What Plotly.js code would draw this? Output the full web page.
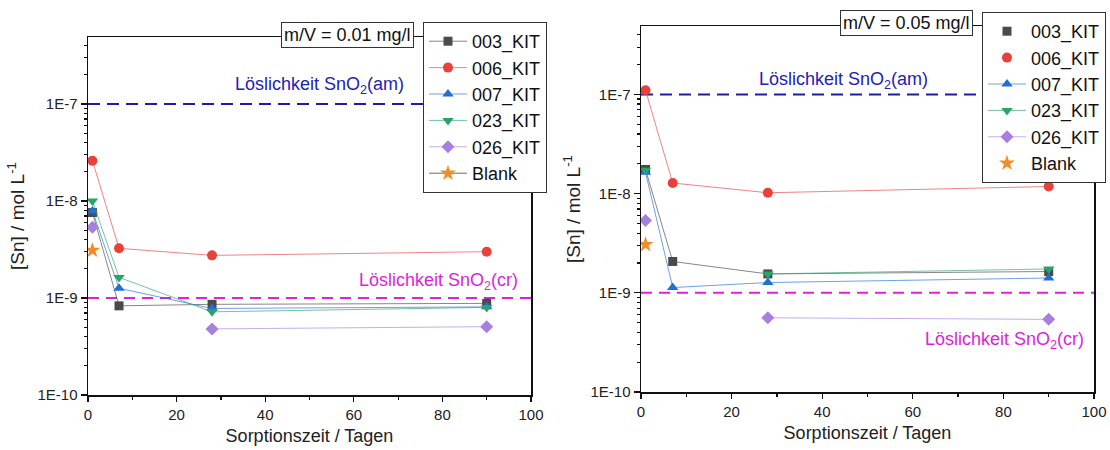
<!DOCTYPE html>
<html><head><meta charset="utf-8">
<script src="https://cdn.plot.ly/plotly-3.0.1.min.js"></script>
<style>html,body{margin:0;padding:0;background:#fff}#chart{width:1110px;height:450px}</style>
</head><body><div id="chart"></div>
<script>
// ---------- data ----------
const days = [1, 7, 28, 90];
const blankDays = [1];
const seriesNames = ['003_KIT', '006_KIT', '007_KIT', '023_KIT', '026_KIT', 'Blank'];

// m/V = 0.01 mg/l
const left003 = [7.6e-9, 8.3e-10, 8.6e-10, 8.8e-10];
const left006 = [2.6e-8, 3.25e-9, 2.75e-9, 3.0e-9];
const left007 = [7.9e-9, 1.26e-9, 7.8e-10, 8.1e-10];
const left023 = [1.0e-8, 1.63e-9, 7.2e-10, 8.0e-10];
const left026 = [5.35e-9, null, 4.8e-10, 5.06e-10];
const leftBlank = [3.1e-9];

// m/V = 0.05 mg/l
const right003 = [1.75e-8, 2.07e-9, 1.55e-9, 1.64e-9];
const right006 = [1.1e-7, 1.28e-8, 1.02e-8, 1.18e-8];
const right007 = [1.64e-8, 1.13e-9, 1.27e-9, 1.41e-9];
const right023 = [1.72e-8, null, 1.55e-9, 1.74e-9];
const right026 = [5.35e-9, null, 5.6e-10, 5.4e-10];
const rightBlank = [3.06e-9];

const solubilityAm = 1e-7;
const solubilityCr = 1e-9;
const solLineX = [0, 100];

const xTickVals = [0, 20, 40, 60, 80, 100];
const yTickVals = [1e-10, 1e-9, 1e-8, 1e-7];
const yTickText = ['1E-10', '1E-9', '1E-8', '1E-7'];
const panelLabels = ['m/V = 0.01 mg/l', 'm/V = 0.05 mg/l'];
const labelAm = 'Löslichkeit SnO<sub>2</sub>(am)';
const labelCr = 'Löslichkeit SnO<sub>2</sub>(cr)';
const xTitle = 'Sorptionszeit / Tagen';
const yTitle = '[Sn] / mol L<sup>-1</sup>';

// ---------- styles ----------
const FONT = 'Arial, "Liberation Sans", sans-serif';
const styles = {
  '003_KIT': {color: '#4a4a4a', line: 'rgba(70,70,70,0.65)', symbol: 'square', size: 9},
  '006_KIT': {color: '#e8413c', line: 'rgba(232,65,60,0.65)', symbol: 'circle', size: 10},
  '007_KIT': {color: '#1f6fd6', line: 'rgba(31,111,214,0.65)', symbol: 'triangle-up', size: 10},
  '023_KIT': {color: '#2aa36b', line: 'rgba(42,163,107,0.65)', symbol: 'triangle-down', size: 10},
  '026_KIT': {color: '#a77fe0', line: 'rgba(167,127,224,0.65)', symbol: 'diamond', size: 10},
  'Blank':   {color: '#f28c28', line: 'rgba(80,80,80,0.85)', symbol: 'star', size: 12}
};

const traces = [];
function addSeries(xs, ys, name, xa, ya, legendId, withLine) {
  const s = styles[name];
  const marker = {color: s.color, symbol: s.symbol, size: s.size, line: {width: 0}};
  if (withLine) {
    traces.push({x: xs, y: ys, name: name, xaxis: xa, yaxis: ya, legend: legendId,
      mode: 'lines+markers', line: {color: s.line, width: 1}, marker: marker});
  } else {
    if (xs.length > 1) {
      traces.push({x: xs, y: ys, xaxis: xa, yaxis: ya, mode: 'lines', showlegend: false,
        line: {color: s.line, width: 1}, hoverinfo: 'skip'});
    }
    traces.push({x: xs, y: ys, name: name, xaxis: xa, yaxis: ya, legend: legendId,
      mode: 'markers', marker: marker});
  }
}
function addSolLines(xa, ya) {
  traces.push({x: solLineX, y: [solubilityAm, solubilityAm], xaxis: xa, yaxis: ya, mode: 'lines',
    showlegend: false, hoverinfo: 'skip', line: {color: '#1c1ca6', width: 2, dash: '12px,7px'}});
  traces.push({x: solLineX, y: [solubilityCr, solubilityCr], xaxis: xa, yaxis: ya, mode: 'lines',
    showlegend: false, hoverinfo: 'skip', line: {color: '#e020dc', width: 2, dash: '11px,7px'}});
}

addSolLines('x', 'y');
addSolLines('x2', 'y2');

const leftData = [left003, left006, left007, left023, left026];
const rightData = [right003, right006, right007, right023, right026];
seriesNames.slice(0, 5).forEach((n, i) => addSeries(days, leftData[i], n, 'x', 'y', 'legend', true));
addSeries(blankDays, leftBlank, 'Blank', 'x', 'y', 'legend', true);
const rightWithLine = {'003_KIT': false, '006_KIT': false, '007_KIT': true, '023_KIT': true, '026_KIT': true};
seriesNames.slice(0, 5).forEach((n, i) => addSeries(days, rightData[i], n, 'x2', 'y2', 'legend2', rightWithLine[n]));
addSeries(blankDays, rightBlank, 'Blank', 'x2', 'y2', 'legend2', false);

// ---------- layout ----------
const W = 1110, H = 450;
const minorY = [];
for (let d = -10; d < -6; d++) for (let k = 2; k <= 9; k++) minorY.push(k * Math.pow(10, d));

function xAxis(domain, anchor) {
  return {domain: domain, anchor: anchor, range: [0, 100], tickmode: 'array', tickvals: xTickVals,
    ticks: 'outside', ticklen: 5, tickwidth: 1.2, tickcolor: '#111',
    minor: {tickmode: 'linear', tick0: 0, dtick: 10, ticks: 'outside', ticklen: 3, tickcolor: '#111'},
    showline: true, linecolor: '#111', linewidth: 1.5, mirror: true,
    showgrid: false, zeroline: false, automargin: false,
    tickfont: {family: FONT, size: 15, color: '#222'},
    title: {text: xTitle, font: {family: FONT, size: 18, color: '#222'}, standoff: 8}};
}
function yAxis(domain, anchor, standoff) {
  return {domain: domain, anchor: anchor, type: 'log', range: [-10, -6.31],
    tickmode: 'array', tickvals: yTickVals, ticktext: yTickText,
    ticks: 'outside', ticklen: 6, tickwidth: 1.2, tickcolor: '#111',
    minor: {tickmode: 'array', tickvals: minorY, ticks: 'outside', ticklen: 3, tickcolor: '#111'},
    showline: true, linecolor: '#111', linewidth: 1.5, mirror: true,
    showgrid: false, zeroline: false, automargin: false,
    tickfont: {family: FONT, size: 15, color: '#222'},
    title: {text: yTitle, font: {family: FONT, size: 19, color: '#222'}, standoff: standoff}};
}
// inward ticks on the top / right frame
function xMirror(over, anchor) {
  return {overlaying: over, anchor: anchor, side: 'top', range: [0, 100], tickmode: 'array', tickvals: xTickVals,
    ticks: 'inside', ticklen: 5, tickcolor: '#111', showticklabels: false,
    minor: {tickmode: 'linear', tick0: 0, dtick: 10, ticks: 'inside', ticklen: 3, tickcolor: '#111'},
    showline: false, showgrid: false, zeroline: false, automargin: false};
}
function yMirror(over, anchor) {
  return {overlaying: over, anchor: anchor, side: 'right', type: 'log', range: [-10, -6.31],
    tickmode: 'array', tickvals: yTickVals, ticks: 'inside', ticklen: 6, tickcolor: '#111', showticklabels: false,
    minor: {tickmode: 'array', tickvals: minorY, ticks: 'inside', ticklen: 3, tickcolor: '#111'},
    showline: false, showgrid: false, zeroline: false, automargin: false};
}

function boxAnn(text, cx, cy) {
  return {text: text, xref: 'paper', yref: 'paper', x: cx / W, y: 1 - cy / H,
    xanchor: 'center', yanchor: 'middle', showarrow: false,
    font: {family: FONT, size: 18, color: '#111'},
    bgcolor: '#fff', bordercolor: '#333', borderwidth: 1, borderpad: 2};
}
function textAnn(text, cx, cy, color) {
  return {text: text, xref: 'paper', yref: 'paper', x: cx / W, y: 1 - cy / H,
    xanchor: 'center', yanchor: 'middle', showarrow: false,
    font: {family: FONT, size: 18, color: color}};
}

const legendBase = {xanchor: 'left', yanchor: 'top', bgcolor: '#fff', bordercolor: '#333', borderwidth: 1,
  font: {family: FONT, size: 18, color: '#111'}, tracegroupgap: 0, itemwidth: 38};

const layout = {
  width: W, height: H,
  margin: {l: 0, r: 0, t: 0, b: 0},
  paper_bgcolor: '#fff', plot_bgcolor: '#fff',
  font: {family: FONT, color: '#111'},
  xaxis: xAxis([88 / W, 531 / W], 'y'),
  yaxis: yAxis([1 - 395 / H, 1 - 37 / H], 'x', 8),
  xaxis2: xAxis([641 / W, 1094 / W], 'y2'),
  yaxis2: yAxis([1 - 392 / H, 1 - 26 / H], 'x2', 5),
  xaxis3: xMirror('x', 'y'),
  yaxis3: yMirror('y', 'x'),
  xaxis4: xMirror('x2', 'y2'),
  yaxis4: yMirror('y2', 'x2'),
  legend: Object.assign({x: 423 / W, y: 1 - 22 / H}, legendBase),
  legend2: Object.assign({x: 982 / W, y: 1 - 12 / H}, legendBase),
  annotations: [
    boxAnn(panelLabels[0], 347.5, 34.5),
    boxAnn(panelLabels[1], 906, 22.5),
    textAnn(labelAm, 319.5, 85, '#2222b4'),
    textAnn(labelCr, 438.5, 281, '#dc1fd8'),
    textAnn(labelAm, 843, 80, '#2222b4'),
    textAnn(labelCr, 1004.5, 340, '#dc1fd8')
  ],
  showlegend: true
};

Plotly.newPlot('chart', traces, layout, {displayModeBar: false, staticPlot: true});
</script>
</body></html>
